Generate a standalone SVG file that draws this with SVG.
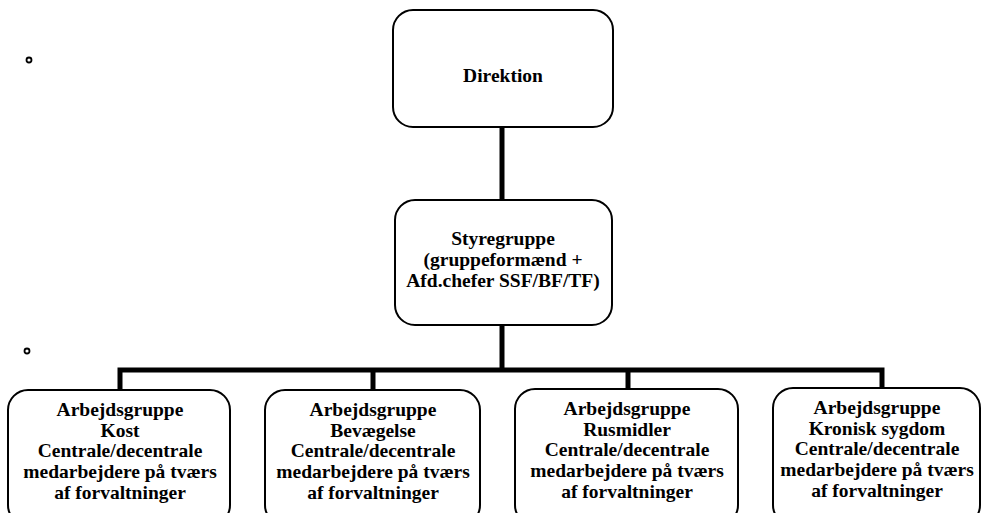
<svg xmlns="http://www.w3.org/2000/svg" width="983" height="513" viewBox="0 0 983 513">
<style>
.box{fill:#fff;stroke:#000;stroke-width:2}
.t{font-family:'Liberation Serif','Times New Roman',serif;font-weight:700;font-size:19.5px;text-anchor:middle;fill:#000}
.c{fill:none;stroke:#000;stroke-width:5}
.b{fill:none;stroke:#000;stroke-width:1.8}
</style>
<rect width="983" height="513" fill="#fff"/>
<circle class="b" cx="29" cy="60" r="2.5"/>
<circle class="b" cx="27" cy="351" r="2.5"/>
<g id="connectors">
<path class="c" d="M502 127V200"/>
<path class="c" d="M502 325V370"/>
<path class="c" d="M120 390V370H882V388"/>
<path class="c" d="M373 370V390"/>
<path class="c" d="M628 370V389"/>
</g>
<g id="direktion">
<rect class="box" x="393" y="10" width="220" height="117" rx="20"/>
<text class="t" x="503" y="82">Direktion</text>
</g>
<g id="styregruppe">
<rect class="box" x="395" y="200" width="217" height="125" rx="20"/>
<text class="t" x="503" y="245">Styregruppe</text>
<text class="t" x="503" y="266">(gruppeformænd +</text>
<text class="t" x="503" y="287">Afd.chefer SSF/BF/TF)</text>
</g>
<g id="kost">
<rect class="box" x="8" y="390" width="222" height="135" rx="20"/>
<text class="t" x="120" y="416">Arbejdsgruppe</text>
<text class="t" x="120" y="437">Kost</text>
<text class="t" x="120" y="457">Centrale/decentrale</text>
<text class="t" x="120" y="478">medarbejdere på tværs</text>
<text class="t" x="120" y="499">af forvaltninger</text>
</g>
<g id="bevaegelse">
<rect class="box" x="265" y="390" width="215" height="135" rx="20"/>
<text class="t" x="373" y="416">Arbejdsgruppe</text>
<text class="t" x="373" y="437">Bevægelse</text>
<text class="t" x="373" y="457">Centrale/decentrale</text>
<text class="t" x="373" y="478">medarbejdere på tværs</text>
<text class="t" x="373" y="499">af forvaltninger</text>
</g>
<g id="rusmidler">
<rect class="box" x="515" y="389" width="223" height="136" rx="20"/>
<text class="t" x="627" y="415">Arbejdsgruppe</text>
<text class="t" x="627" y="436">Rusmidler</text>
<text class="t" x="627" y="456">Centrale/decentrale</text>
<text class="t" x="627" y="477">medarbejdere på tværs</text>
<text class="t" x="627" y="498">af forvaltninger</text>
</g>
<g id="kronisk">
<rect class="box" x="773" y="388" width="207" height="137" rx="20"/>
<text class="t" x="877" y="414">Arbejdsgruppe</text>
<text class="t" x="877" y="435">Kronisk sygdom</text>
<text class="t" x="877" y="455">Centrale/decentrale</text>
<text class="t" x="877" y="476">medarbejdere på tværs</text>
<text class="t" x="877" y="497">af forvaltninger</text>
</g>
</svg>
